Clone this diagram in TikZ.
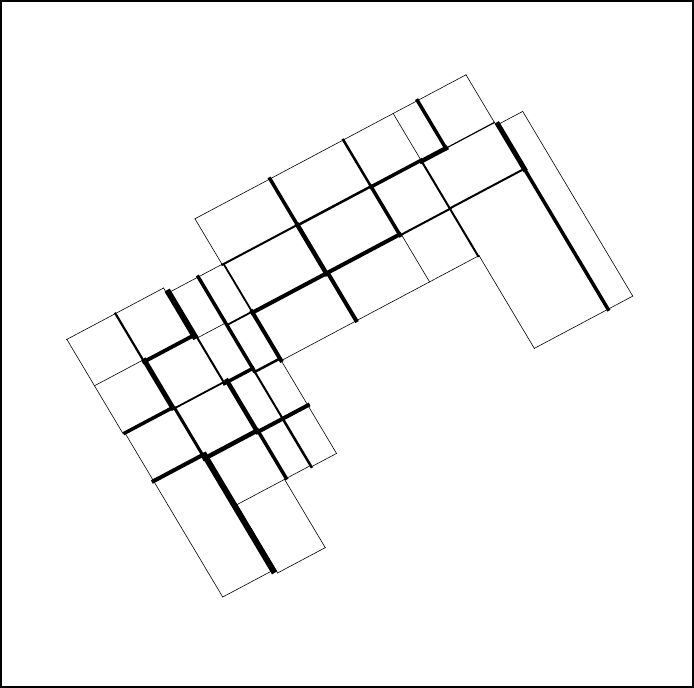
\documentclass[tikz,border=0pt]{standalone}
\usepackage{tikz}
\tikzset{
  frameline/.style={line width=2pt},
  blockedge/.style={line cap=rect, black},
}

\begin{document}
\begin{tikzpicture}[x=1pt,y=1pt]
  \useasboundingbox (0,0) rectangle (694,688);
  \draw[frameline] (1,1) rectangle (693,687);
  % tilted grid: first axis runs up the rows, second runs down the columns
  \begin{scope}[shift={(0pt,688pt)}, x={(0.883pt,0.469pt)}, y={(0.512pt,-0.859pt)}, blockedge]
    % steep borders: u / from v / to v / width
    \foreach \u/\va/\vb/\w in {
      -116.5/331.5/441.5/0.6pt, -114.5/441.5/632.5/0.6pt,
      -61.5/331.5/387/2.2pt, -60.5/387/441.5/5pt, -59/443/499/3pt, -57.5/499/632.5/6pt,
      -55/557/637/0.6pt, -7/331.5/338/0.6pt, -5/338/388.5/6pt, -3.5/388.5/443.5/2pt,
      0/443.5/502/4.5pt, 1/502/557/3.5pt, -1/557/637/0.6pt,
      28.5/338/447/3.5pt, 28.5/447/503/2pt, 28.5/503/559/2.5pt,
      55.5/285/338.5/0.6pt, 57/338.5/394/1.8pt, 57/394/450.5/4pt, 57/450.5/559/0.6pt,
      140.5/285/339/3.5pt, 140.5/339/395.5/4.5pt, 142/395.5/450.5/4pt,
      223.5/285/339.5/2.5pt, 223.5/339.5/396/3.5pt, 225/396/451/0.6pt,
      280/285/340/0.6pt, 280/340/451/2pt, 281/451/559/0.6pt,
      307.5/285/341/3.5pt, 362.5/285/341/0.6pt,
      364.5/344/395.5/5pt, 364.5/395.5/559/3.5pt, 392.5/344/559/0.6pt}
      \draw[line width=\w] (\u,\va) -- (\u,\vb);
    % flat borders: v / from u / to u / width
    \foreach \v/\ua/\ub/\w in {
      331.5/-117/-7/0.6pt, 385.5/-116.5/-61.5/0.6pt, 387.5/-61.5/-5/3.8pt,
      338/-5/55.5/0.6pt, 391.5/-3.5/28.5/0.6pt, 394/28.5/57/1.8pt,
      441.5/-114.5/-60.5/3.5pt, 443/-60.5/-3.5/1.8pt, 444.5/-3.5/28.5/3.5pt, 448.5/28.5/57/2.5pt,
      497.5/-114.5/-59/4pt, 501.5/-59/0/4.5pt, 503/0/57/4pt,
      557.5/-57.5/28.5/0.6pt, 559/28.5/57/0.6pt,
      632.5/-114.5/-57.5/0.6pt, 637/-55/-1/0.6pt,
      285/55.5/362.5/0.6pt, 338.5/55.5/140.5/2pt, 339/140.5/223.5/2.5pt,
      339.5/223.5/280/3.5pt, 340.5/280/307.5/4.5pt, 340.5/307.5/362.5/1.2pt,
      395/57/223.5/4pt, 396/223.5/281/2pt, 395.5/281/364.5/2pt,
      451/57/281/0.6pt, 344/364.5/392.5/0.6pt, 559/281/392.5/0.6pt}
      \draw[line width=\w] (\ua,\v) -- (\ub,\v);
  \end{scope}
\end{tikzpicture}
\end{document}
